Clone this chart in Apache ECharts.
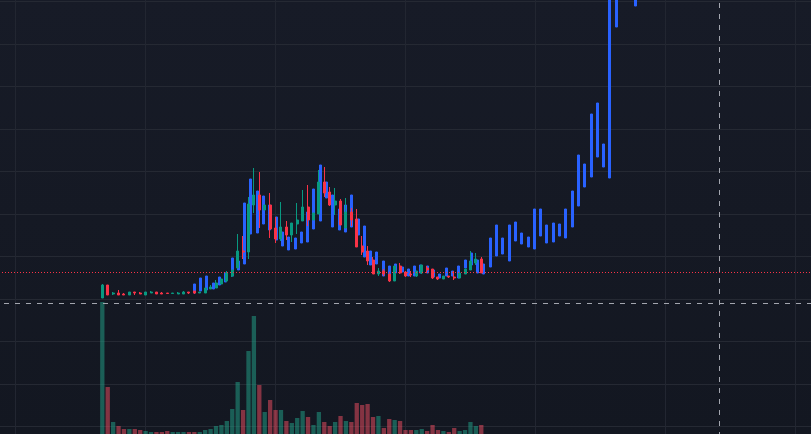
<!DOCTYPE html>
<html>
<head>
    <meta charset="utf-8">
    <title>Chart</title>
    <script src="https://cdn.jsdelivr.net/npm/echarts@6/dist/echarts.min.js"></script>
    <style>
        html, body { margin: 0; padding: 0; background: #141822; overflow: hidden; }
        #chart { width: 811px; height: 434px; }
    </style>
</head>
<body>
<div id="chart"></div>
<script>
    // the picture has no axis labels, so the price scale is in arbitrary units
    // candles: [open, close, low, high]
    var candles = [
        [171,184,171,185],[184,174,174,184],[175,176,174,177],[176,174,174,179],[175,174,174,176],
        [174,177,174,177],[177,176,174,177],[176,175,175,177],[174,177,174,177],[176,177,176,178],
        [177,175,175,177],[176,175,175,177],[176,175.5,175.5,176],[175.5,176,175.5,176],[175,176,175,177],
        [175,177,175,178],[177,176,175,177],[178,176,175,178],[176,177,176,177],[176,181,176,181],
        [180,182,180,184],[181,186,181,189],[185,190,185,190],[188,196,187,198],[193,199,192,199],
        [201,218,201,235],[218,217,210,233],[217,265,210,272],[264,274,256,301],[274,259,241,297],
        [259,264,259,264],[264,240,231,276],[241,230,226,252],[230,242,228,267],[242,234,229,248],
        [234,246,227,246],[245,249,235,266],[248,262,248,279],[262,249,243,284],[249,256,249,256],
        [255,287,255,299],[287,276,272,302],[277,264,263,282],[264,268,254,281],[268,244,244,270],
        [241,257,241,271],[257,249,243,261],[250,222,222,260],[223,217,214,233],[218,208,204,223],
        [209,195,195,212],[195,198,193,201],[198,195,193,200],[195,188,187,195],[188,203,188,203],
        [203,196,195,206],[197,193,192,198],[195,194,192,198],[193,198,192,198],[196,204,195,204],
        [201,199,196,203],[200,191,190,200],[192,190,189,192],[190,193,190,193],[193,192,191,193],
        [192,191,189,198],[191,196,191,196],[195,200,195,200],[199,208,199,218],[206,210,204,216],
        [210,196,196,212]
    ];
    var volumes = [
        167,82,47,43,40,40,40,39,38,37,37,37,38,37,37,37,37,37,37,39,40,43,44,48,60,
        87,59,118,153,84,57,69,59,59,48,46,51,58,52,44,57,47,43,47,53,48,47,66,64,65,
        52,53,41,50,49,48,39,39,39,40,38,44,39,38,37,41,38,39,47,43,44
    ];
    // second series, blue bars: [low, high]
    var blueBars = [
        [176,185],[178,191],[179,193],[180,186],[184,192],[187,196],[193,211],[199,208],[205,266],[235,290],
        [236,278],[245,273],[239,264],[229,252],[223,237],[219,232],[220,231],[226,237],[227,257],[240,280],
        [248,304],[271,287],[242,274],[239,260],[237,264],[242,274],[234,250],[212,243],[204,218],[205,217],
        [193,208],[189,203],[196,205],[197,202],[193,200],[193,203],[196,204],[196,203],[192,199],[191,195],
        [193,201],[193,198],[191,203],[201,209],[204,216],[196,209],[195,205],[202,231],[213,244],[215,231],
        [208,244],[228,247],[225,236],[222,232],[220,260],[233,260],[226,244],[227,246],[233,245],[231,260],
        [242,278],[263,314],[282,305],[292,355],[312,366],[302,325],[291,505],[442,505],[470,505],[475,505],
        [463,505]
    ];
    var lastPrice = 196.5;
    var crossPrice = 165.5;
    var crossTime = 834.5;

    var GREEN = '#089981', RED = '#fa3347', BLUE = '#2962ff';
    var VOL_GREEN = 'rgba(34,166,140,0.5)', VOL_RED = 'rgba(245,80,100,0.5)';
    var CROSS = '#a3a6af';
    var GRID_TOP = -41, GRID_HEIGHT = 510;
    // 2.5 keeps every body the same width after echarts snaps the edges to pixels
    var BODY_WIDTH = 2.5;

    function indexes(arr) {
        return arr.map(function (d, i) { return i; });
    }

    var volumeData = volumes.map(function (v, i) {
        var up = candles[i][1] >= candles[i][0];
        return { value: v, itemStyle: { color: up ? VOL_GREEN : VOL_RED } };
    });
    var blueData = blueBars.map(function (b) {
        return [b[0], b[1], b[0], b[1]];
    });

    function hiddenY(i) {
        return { type: 'value', gridIndex: i, min: 0, max: 510, show: false };
    }

    var chart = echarts.init(document.getElementById('chart'));
    chart.setOption({
        animation: false,
        backgroundColor: {
            type: 'linear', x: 0, y: 0, x2: 0, y2: 1,
            colorStops: [{ offset: 0, color: '#171b27' }, { offset: 1, color: '#131721' }]
        },
        grid: [
            { left: -115, width: 1040, top: GRID_TOP, height: GRID_HEIGHT, outerBoundsMode: 'none' },
            { left: 99.6, width: 384.4, top: GRID_TOP, height: GRID_HEIGHT, outerBoundsMode: 'none' },
            { left: 191.15, width: 447.1, top: GRID_TOP, height: GRID_HEIGHT, outerBoundsMode: 'none' }
        ],
        xAxis: [
            {
                type: 'value', gridIndex: 0, min: 0, max: 1040, interval: 130,
                axisLine: { show: false }, axisTick: { show: false }, axisLabel: { show: false },
                splitLine: { show: true, lineStyle: { color: '#222631', width: 1 } }
            },
            { type: 'category', gridIndex: 1, data: indexes(candles), show: false },
            { type: 'category', gridIndex: 2, data: indexes(blueBars), show: false }
        ],
        yAxis: [
            {
                type: 'value', gridIndex: 0, min: 0, max: 510, interval: 42.5,
                axisLine: { show: false }, axisTick: { show: false }, axisLabel: { show: false },
                splitLine: { show: true, lineStyle: { color: '#252933', width: 1 } }
            },
            hiddenY(1),
            hiddenY(2)
        ],
        series: [
            {
                name: 'blue', type: 'candlestick', xAxisIndex: 2, yAxisIndex: 2, z: 2,
                barWidth: BODY_WIDTH, data: blueData,
                itemStyle: { color: BLUE, color0: BLUE, borderColor: BLUE, borderColor0: BLUE, borderWidth: 1 }
            },
            {
                name: 'volume', type: 'bar', xAxisIndex: 1, yAxisIndex: 1, z: 3,
                barWidth: 4.3, data: volumeData
            },
            {
                name: 'price', type: 'candlestick', xAxisIndex: 1, yAxisIndex: 1, z: 4,
                barWidth: BODY_WIDTH, data: candles,
                itemStyle: { color: GREEN, color0: RED, borderColor: GREEN, borderColor0: RED, borderWidth: 1 }
            },
            {
                name: 'last', type: 'line', xAxisIndex: 0, yAxisIndex: 0, z: 5, symbol: 'none', silent: true,
                data: [[0, lastPrice], [1040, lastPrice]],
                lineStyle: { color: RED, width: 1, type: [1, 2] }
            },
            {
                name: 'crossH', type: 'line', xAxisIndex: 0, yAxisIndex: 0, z: 6, symbol: 'none', silent: true,
                data: [[0, crossPrice], [1040, crossPrice]],
                lineStyle: { color: CROSS, width: 1, type: [5, 6], dashOffset: 2 }
            },
            {
                name: 'crossV', type: 'line', xAxisIndex: 0, yAxisIndex: 0, z: 6, symbol: 'none', silent: true,
                data: [[crossTime, 0], [crossTime, 510]],
                lineStyle: { color: CROSS, width: 1, type: [5, 6], dashOffset: 1 }
            }
        ]
    });
</script>
</body>
</html>
